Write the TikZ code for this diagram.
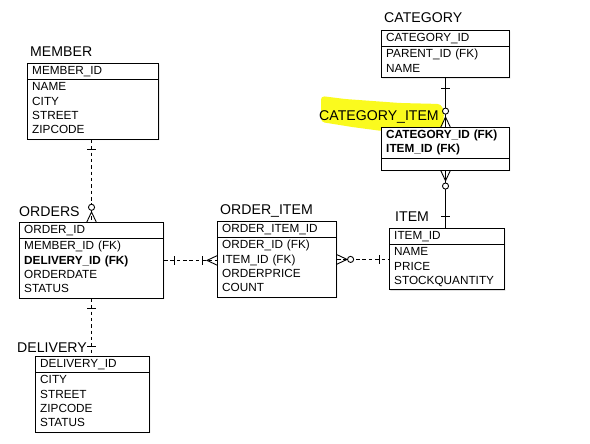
\documentclass[tikz,border=0pt]{standalone}
\usepackage{fontspec}
\setmainfont{Liberation Sans}
\usetikzlibrary{shapes.multipart, decorations.markings, shadows}

\definecolor{hilite}{RGB}{250,250,30}

\tikzset{
  entity/.style={rectangle split, rectangle split parts=2, draw, line width=0.9pt,
    fill=white, drop shadow={shadow xshift=0.8pt, shadow yshift=-0.8pt, opacity=0.25},
    anchor=north west, align=left, text width=#1, inner xsep=4pt, inner ysep=0.4pt,
    font=\fontsize{10}{12.2}\selectfont},
  enttitle/.style={anchor=base west, inner sep=0pt, font=\fontsize{12}{14}\selectfont},
  rel/.style={line width=0.75pt},
  opt/.style={rel, dash pattern=on 3pt off 2.4pt},
  % crow's foot marks
  tickat/.style={postaction={decorate, decoration={markings,
      mark=at position #1 with {\draw[solid] (0,-3.6pt) -- (0,3.6pt);}}}},
  ringat/.style={postaction={decorate, decoration={markings,
      mark=at position #1 with {\draw[solid, fill=white] (0,0) circle (2.6pt);}}}},
  crowend/.style={postaction={decorate, decoration={markings,
      mark=at position -8.5pt with {\draw[solid] (8.5pt,4pt) -- (0,0) -- (8.5pt,-4pt);}}}},
  crowstart/.style={postaction={decorate, decoration={markings,
      mark=at position 8.5pt with {\draw[solid] (-8.5pt,4pt) -- (0,0) -- (-8.5pt,-4pt);}}}}
}

\begin{document}
\begin{tikzpicture}[x=0.85pt, y=-0.85pt]
  \useasboundingbox (0,0) rectangle (590,444);

  % highlight behind the CATEGORY_ITEM name
  \fill[hilite, rounded corners=3pt] (321,96) -- (345,99) -- (400,103) -- (441,104)
    -- (444,112) -- (443,127) -- (382,131) -- (352,127) -- (321,122) -- cycle;

  % entities
  \node[entity=103.4pt] (member) at (27,63)
    {\strut MEMBER\_ID \nodepart{two}\strut NAME\\CITY\\STREET\\ZIPCODE\strut};
  \node[enttitle] (membertitle) at (30,57) {MEMBER};

  \node[entity=100.8pt] (category) at (381,30)
    {\strut CATEGORY\_ID \nodepart{two}\strut PARENT\_ID (FK)\\NAME\strut};
  \node[enttitle] (categorytitle) at (384,23) {CATEGORY};

  \node[entity=100.8pt] (catitem) at (381,127)
    {\strut\textbf{CATEGORY\_ID (FK)}\\\textbf{ITEM\_ID (FK)}\strut
     \nodepart{two}\rule{0pt}{8.5pt}};
  \node[enttitle] (catitemtitle) at (319,121) {CATEGORY\_ITEM};

  \node[entity=114.4pt] (orders) at (19,222)
    {\strut ORDER\_ID \nodepart{two}\strut MEMBER\_ID (FK)\\\textbf{DELIVERY\_ID (FK)}\\ORDERDATE\\STATUS\strut};
  \node[enttitle] (orderstitle) at (19,217) {ORDERS};

  \node[entity=93.15pt] (orderitem) at (217,221)
    {\strut ORDER\_ITEM\_ID \nodepart{two}\strut ORDER\_ID (FK)\\ITEM\_ID (FK)\\ORDERPRICE\\COUNT\strut};
  \node[enttitle] (orderitemtitle) at (220,215) {ORDER\_ITEM};

  \node[entity=89.75pt] (item) at (389,228)
    {\strut ITEM\_ID \nodepart{two}\strut NAME\\PRICE\\STOCKQUANTITY\strut};
  \node[enttitle] (itemtitle) at (395,222) {ITEM};

  \node[entity=88.9pt] (delivery) at (35,356)
    {\strut DELIVERY\_ID \nodepart{two}\strut CITY\\STREET\\ZIPCODE\\STATUS\strut};
  \node[enttitle] (deliverytitle) at (17,352) {DELIVERY};

  % relationships
  \draw[opt, tickat=8.5pt, ringat=-12.5pt, crowend] (orders.north |- member.south) -- (orders.north);
  \draw[rel, tickat=8.5pt, ringat=-13.5pt, crowend] (category.south) -- (catitem.north);
  \draw[rel, crowstart, ringat=13pt, tickat=-9.5pt] (catitem.south) -- (catitem.south |- item.north);
  \draw[opt, tickat=8.5pt, tickat=-12.5pt, crowend] (orders.east) -- (orderitem.west |- orders.east);
  \draw[opt, crowstart, ringat=11.5pt, tickat=-8.5pt] (orderitem.east) -- (item.west |- orderitem.east);
  \draw[opt, tickat=8pt, tickat=-8.5pt] (orders.south) -- (orders.south |- delivery.north);
\end{tikzpicture}
\end{document}
